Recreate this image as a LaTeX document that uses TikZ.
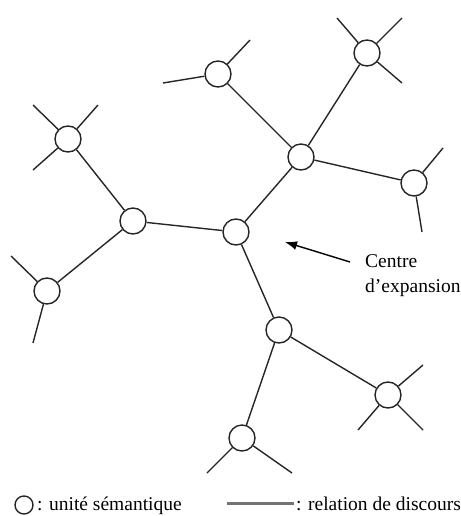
\documentclass[tikz,border=0pt]{standalone}
\usepackage{fontspec}
\setmainfont{Liberation Serif}
\usetikzlibrary{arrows.meta}
\begin{document}
\begin{tikzpicture}[x=1pt,y=-1pt,
  unit/.style={circle,draw=black!85,line width=1.4pt,minimum size=26pt,inner sep=0pt,fill=white},
  rel/.style={draw=black!85,line width=1.4pt},
  lbl/.style={font=\fontsize{19.5}{23}\selectfont,inner sep=0pt,text=black}]
\useasboundingbox (0,0) rectangle (460,516);
% nodes
\node[unit] (A) at (236,232) {};
\node[unit] (B) at (133,221) {};
\node[unit] (B1) at (68,139) {};
\node[unit] (B2) at (47,291) {};
\node[unit] (D) at (301,157) {};
\node[unit] (D1) at (367,53) {};
\node[unit] (D2) at (414,183) {};
\node[unit] (E) at (218,74) {};
\node[unit] (F) at (279,330) {};
\node[unit] (F1) at (388,395) {};
\node[unit] (F2) at (242,438) {};
% stub ends
\coordinate (e1) at (163,83);
\coordinate (e2) at (250,40);
\coordinate (b11) at (33,105);
\coordinate (b12) at (98,105);
\coordinate (b13) at (33,170);
\coordinate (b21) at (11,256);
\coordinate (b22) at (33,343);
\coordinate (d11) at (337,18);
\coordinate (d12) at (402,18);
\coordinate (d13) at (402,83);
\coordinate (d21) at (443,148);
\coordinate (d22) at (422,232);
\coordinate (f11) at (423,365);
\coordinate (f12) at (358,430);
\coordinate (f13) at (423,430);
\coordinate (f21) at (207,473);
\coordinate (f22) at (292,473);
% edges
\draw[rel] (A) -- (B);
\draw[rel] (A) -- (D);
\draw[rel] (A) -- (F);
\draw[rel] (B) -- (B1);
\draw[rel] (B) -- (B2);
\draw[rel] (D) -- (D1);
\draw[rel] (D) -- (D2);
\draw[rel] (D) -- (E);
\draw[rel] (F) -- (F1);
\draw[rel] (F) -- (F2);
% stubs
\draw[rel] (E) -- (e1);
\draw[rel] (E) -- (e2);
\draw[rel] (B1) -- (b11);
\draw[rel] (B1) -- (b12);
\draw[rel] (B1) -- (b13);
\draw[rel] (B2) -- (b21);
\draw[rel] (B2) -- (b22);
\draw[rel] (D1) -- (d11);
\draw[rel] (D1) -- (d12);
\draw[rel] (D1) -- (d13);
\draw[rel] (D2) -- (d21);
\draw[rel] (D2) -- (d22);
\draw[rel] (F1) -- (f11);
\draw[rel] (F1) -- (f12);
\draw[rel] (F1) -- (f13);
\draw[rel] (F2) -- (f21);
\draw[rel] (F2) -- (f22);
% centre label
\node[lbl,anchor=base west] (c1) at (365,267) {Centre};
\node[lbl,anchor=base west] (c2) at (365,292) {d\char"0027 expansion};
\coordinate (tail) at (350,262);
\coordinate (tip) at (285,242);
\draw[line width=1.4pt,black,-{Latex[length=12pt,width=9pt]}] (tail) -- (tip);
% legend
\node[circle,draw=black!85,line width=1.4pt,minimum size=18pt,inner sep=0pt] (lc) at (24,505) {};
\node[lbl,anchor=base west] (lt1) at (37,510) {: unité sémantique};
\coordinate (l1) at (227,503);
\coordinate (l2) at (294,503);
\draw[draw=black!55,line width=3pt] (l1) -- (l2);
\node[lbl,anchor=base west] (lt2) at (296,510) {: relation de discours};
\end{tikzpicture}
\end{document}
